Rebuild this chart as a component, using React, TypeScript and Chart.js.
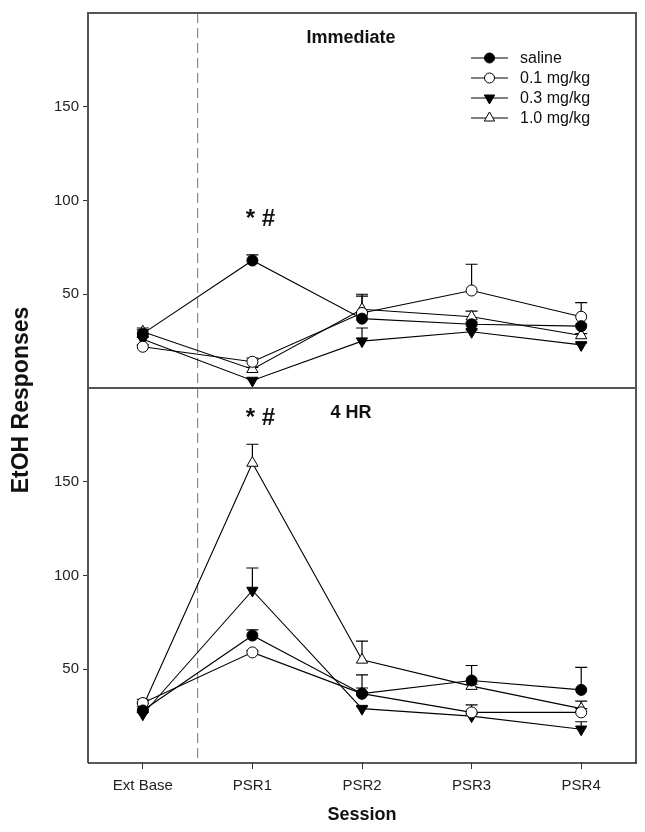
import React, { useEffect, useRef } from 'react';
import { Chart, registerables } from 'chart.js';

Chart.register(...registerables);

const categories = ['Ext Base', 'PSR1', 'PSR2', 'PSR3', 'PSR4'];
const seriesLabels = ['saline', '0.1 mg/kg', '0.3 mg/kg', '1.0 mg/kg'];
const yTickValues = [50, 100, 150];

// Immediate panel
const immSaline = [29, 68, 37, 34, 33];
const immSalineErr = [2, 3, 2, 1, 1];
const imm01 = [22, 14, 40, 52, 38];
const imm01Err = [1, 2, 9, 14, 7.5];
const imm03 = [26, 4, 25, 30, 23];
const imm03Err = [1, 1, 7, 1, 1];
const imm10 = [30, 10, 42, 38, 28];
const imm10Err = [2, 1, 8, 3, 1];

// 4 HR panel
const hrSaline = [28, 68, 37, 44, 39];
const hrSalineErr = [2, 3, 10, 8, 12];
const hr01 = [32, 59, 37, 27, 27];
const hr01Err = [2, 1, 3, 4, 2];
const hr03 = [26, 92, 29, 25, 18];
const hr03Err = [1, 12, 1, 1, 4];
const hr10 = [30, 160, 55, 41, 29];
const hr10Err = [2, 10, 10, 1, 4];

const FONT = '"Liberation Sans", Arial, Helvetica, sans-serif';

type Style = { pointStyle: string; fill: string; rotation: number; radius: number };
const styles: Style[] = [
  { pointStyle: 'circle', fill: '#000', rotation: 0, radius: 5.5 },
  { pointStyle: 'circle', fill: '#fff', rotation: 0, radius: 5.5 },
  { pointStyle: 'triangle', fill: '#000', rotation: 180, radius: 6.5 },
  { pointStyle: 'triangle', fill: '#fff', rotation: 0, radius: 6.5 },
];

function makeDataset(label: string, data: number[], errs: number[], axis: string, s: Style) {
  return {
    label,
    data,
    errs,
    yAxisID: axis,
    borderColor: '#000',
    borderWidth: 1.1,
    pointStyle: s.pointStyle,
    pointRotation: s.rotation,
    pointRadius: s.radius,
    pointBackgroundColor: s.fill,
    pointBorderColor: '#000',
    pointBorderWidth: 1,
    fill: false,
    tension: 0,
  } as any;
}

const yScale = () => ({
  type: 'linear',
  position: 'left',
  stack: 'panels',
  stackWeight: 1,
  min: 0,
  max: 200,
  afterBuildTicks: (scale: any) => {
    scale.ticks = yTickValues.map((v) => ({ value: v }));
  },
  afterFit: (scale: any) => {
    scale.width = 88;
  },
  grid: { drawOnChartArea: false, drawTicks: true, tickLength: 5, color: '#333', lineWidth: 1 },
  border: { display: false },
  ticks: { font: { family: FONT, size: 15 }, color: '#222', padding: 4 },
});

function drawMarker(ctx: CanvasRenderingContext2D, ds: any, cx: number, cy: number) {
  const r = ds.pointRadius;
  ctx.save();
  ctx.fillStyle = ds.pointBackgroundColor;
  ctx.strokeStyle = '#000';
  ctx.lineWidth = 1;
  ctx.beginPath();
  if (ds.pointStyle === 'circle') {
    ctx.arc(cx, cy, r, 0, Math.PI * 2);
  } else {
    let rad = (ds.pointRotation * Math.PI) / 180;
    for (let k = 0; k < 3; k++) {
      const px = cx + Math.sin(rad) * r;
      const py = cy - Math.cos(rad) * r;
      if (k === 0) ctx.moveTo(px, py);
      else ctx.lineTo(px, py);
      rad += (2 * Math.PI) / 3;
    }
    ctx.closePath();
  }
  ctx.fill();
  ctx.stroke();
  ctx.restore();
}

const drawPlugin = {
  id: 'customDraw',
  beforeDatasetsDraw(chart: any) {
    const ctx = chart.ctx;
    const ca = chart.chartArea;
    const x = chart.scales.x;
    const xd = (x.getPixelForValue(0) + x.getPixelForValue(1)) / 2;
    ctx.save();
    ctx.strokeStyle = '#8a8a8a';
    ctx.lineWidth = 1.2;
    ctx.setLineDash([10, 5]);
    ctx.beginPath();
    ctx.moveTo(xd, ca.top);
    ctx.lineTo(xd, ca.bottom);
    ctx.stroke();
    ctx.setLineDash([]);
    ctx.strokeStyle = '#000';
    ctx.lineWidth = 1.2;
    chart.data.datasets.forEach((ds: any) => {
      const ys = chart.scales[ds.yAxisID];
      ds.data.forEach((v: number, i: number) => {
        const e = ds.errs[i];
        const px = x.getPixelForValue(i);
        const y0 = ys.getPixelForValue(v);
        const y1 = ys.getPixelForValue(v + e);
        ctx.beginPath();
        ctx.moveTo(px, y0);
        ctx.lineTo(px, y1);
        ctx.moveTo(px - 6, y1);
        ctx.lineTo(px + 6, y1);
        ctx.stroke();
      });
    });
    ctx.restore();
  },
  afterDatasetsDraw(chart: any) {
    const ctx = chart.ctx;
    const ca = chart.chartArea;
    const x = chart.scales.x;
    const yTop = chart.scales.yTop;
    const yBot = chart.scales.yBot;
    ctx.save();
    ctx.strokeStyle = '#555';
    ctx.lineWidth = 2;
    ctx.beginPath();
    ctx.moveTo(ca.left, ca.bottom);
    ctx.lineTo(ca.left, ca.top);
    ctx.lineTo(ca.right, ca.top);
    ctx.lineTo(ca.right, ca.bottom);
    const mid = yTop.bottom;
    ctx.moveTo(ca.left, mid);
    ctx.lineTo(ca.right, mid);
    ctx.stroke();
    ctx.strokeStyle = '#222';
    ctx.lineWidth = 1.5;
    ctx.beginPath();
    ctx.moveTo(ca.left, ca.bottom);
    ctx.lineTo(ca.right + 1, ca.bottom);
    ctx.stroke();

    ctx.fillStyle = '#111';
    ctx.textAlign = 'center';
    ctx.textBaseline = 'middle';
    ctx.font = `bold 18px ${FONT}`;
    ctx.fillText('Immediate', x.getPixelForValue(1.9), yTop.getPixelForValue(186.5));
    ctx.fillText('4 HR', x.getPixelForValue(1.9), yBot.getPixelForValue(186.5));

    ctx.font = `bold 24px ${FONT}`;
    ctx.fillText('* #', x.getPixelForValue(1) + 8, yTop.getPixelForValue(90));
    ctx.fillText('* #', x.getPixelForValue(1) + 8, yBot.getPixelForValue(184));

    const lx = ca.right - 165;
    const ly = ca.top + 45;
    ctx.font = `16px ${FONT}`;
    ctx.textAlign = 'left';
    const topSets = chart.data.datasets.filter((d: any) => d.yAxisID === 'yTop');
    topSets.forEach((ds: any, i: number) => {
      const yy = ly + i * 20;
      ctx.strokeStyle = '#000';
      ctx.lineWidth = 1;
      ctx.beginPath();
      ctx.moveTo(lx, yy);
      ctx.lineTo(lx + 37, yy);
      ctx.stroke();
      drawMarker(ctx, { ...ds, pointRadius: ds.pointRadius - 0.5 }, lx + 18.5, yy);
      ctx.fillStyle = '#111';
      ctx.fillText(ds.label, lx + 49, yy + 1);
    });

    ctx.fillStyle = '#111';
    ctx.textAlign = 'center';
    ctx.font = `bold 18px ${FONT}`;
    ctx.fillText('Session', (ca.left + ca.right) / 2, 815);
    ctx.save();
    ctx.translate(22, 400);
    ctx.rotate(-Math.PI / 2);
    ctx.font = `bold 23px ${FONT}`;
    ctx.fillText('EtOH Responses', 0, 0);
    ctx.restore();
    ctx.restore();
  },
};

export default function App() {
  const ref = useRef<HTMLCanvasElement>(null);
  useEffect(() => {
    if (!ref.current) return;
    const topData = [immSaline, imm01, imm03, imm10];
    const topErr = [immSalineErr, imm01Err, imm03Err, imm10Err];
    const botData = [hrSaline, hr01, hr03, hr10];
    const botErr = [hrSalineErr, hr01Err, hr03Err, hr10Err];
    const datasets: any[] = [];
    seriesLabels.forEach((l, i) => datasets.push(makeDataset(l, topData[i], topErr[i], 'yTop', styles[i])));
    seriesLabels.forEach((l, i) => datasets.push(makeDataset(l, botData[i], botErr[i], 'yBot', styles[i])));

    const chart = new Chart(ref.current, {
      type: 'line',
      data: { labels: categories, datasets },
      options: {
        animation: false,
        responsive: true,
        maintainAspectRatio: false,
        layout: { padding: { left: 0, right: 9, top: 12, bottom: 0 } },
        plugins: { legend: { display: false }, tooltip: { enabled: false } },
        scales: {
          x: {
            type: 'category',
            offset: true,
            grid: { offset: false, drawOnChartArea: false, drawTicks: true, tickLength: 6, color: '#333' },
            border: { display: false },
            ticks: { font: { family: FONT, size: 15 }, color: '#222', padding: 8, maxRotation: 0 },
            afterFit: (scale: any) => {
              scale.height = 69;
            },
          },
          yBot: yScale(),
          yTop: yScale(),
        } as any,
      },
      plugins: [drawPlugin],
    });
    return () => chart.destroy();
  }, []);
  return (
    <div style={{ position: 'fixed', left: 0, top: 0, width: 645, height: 832, background: '#fff' }}>
      <canvas ref={ref} />
    </div>
  );
}
